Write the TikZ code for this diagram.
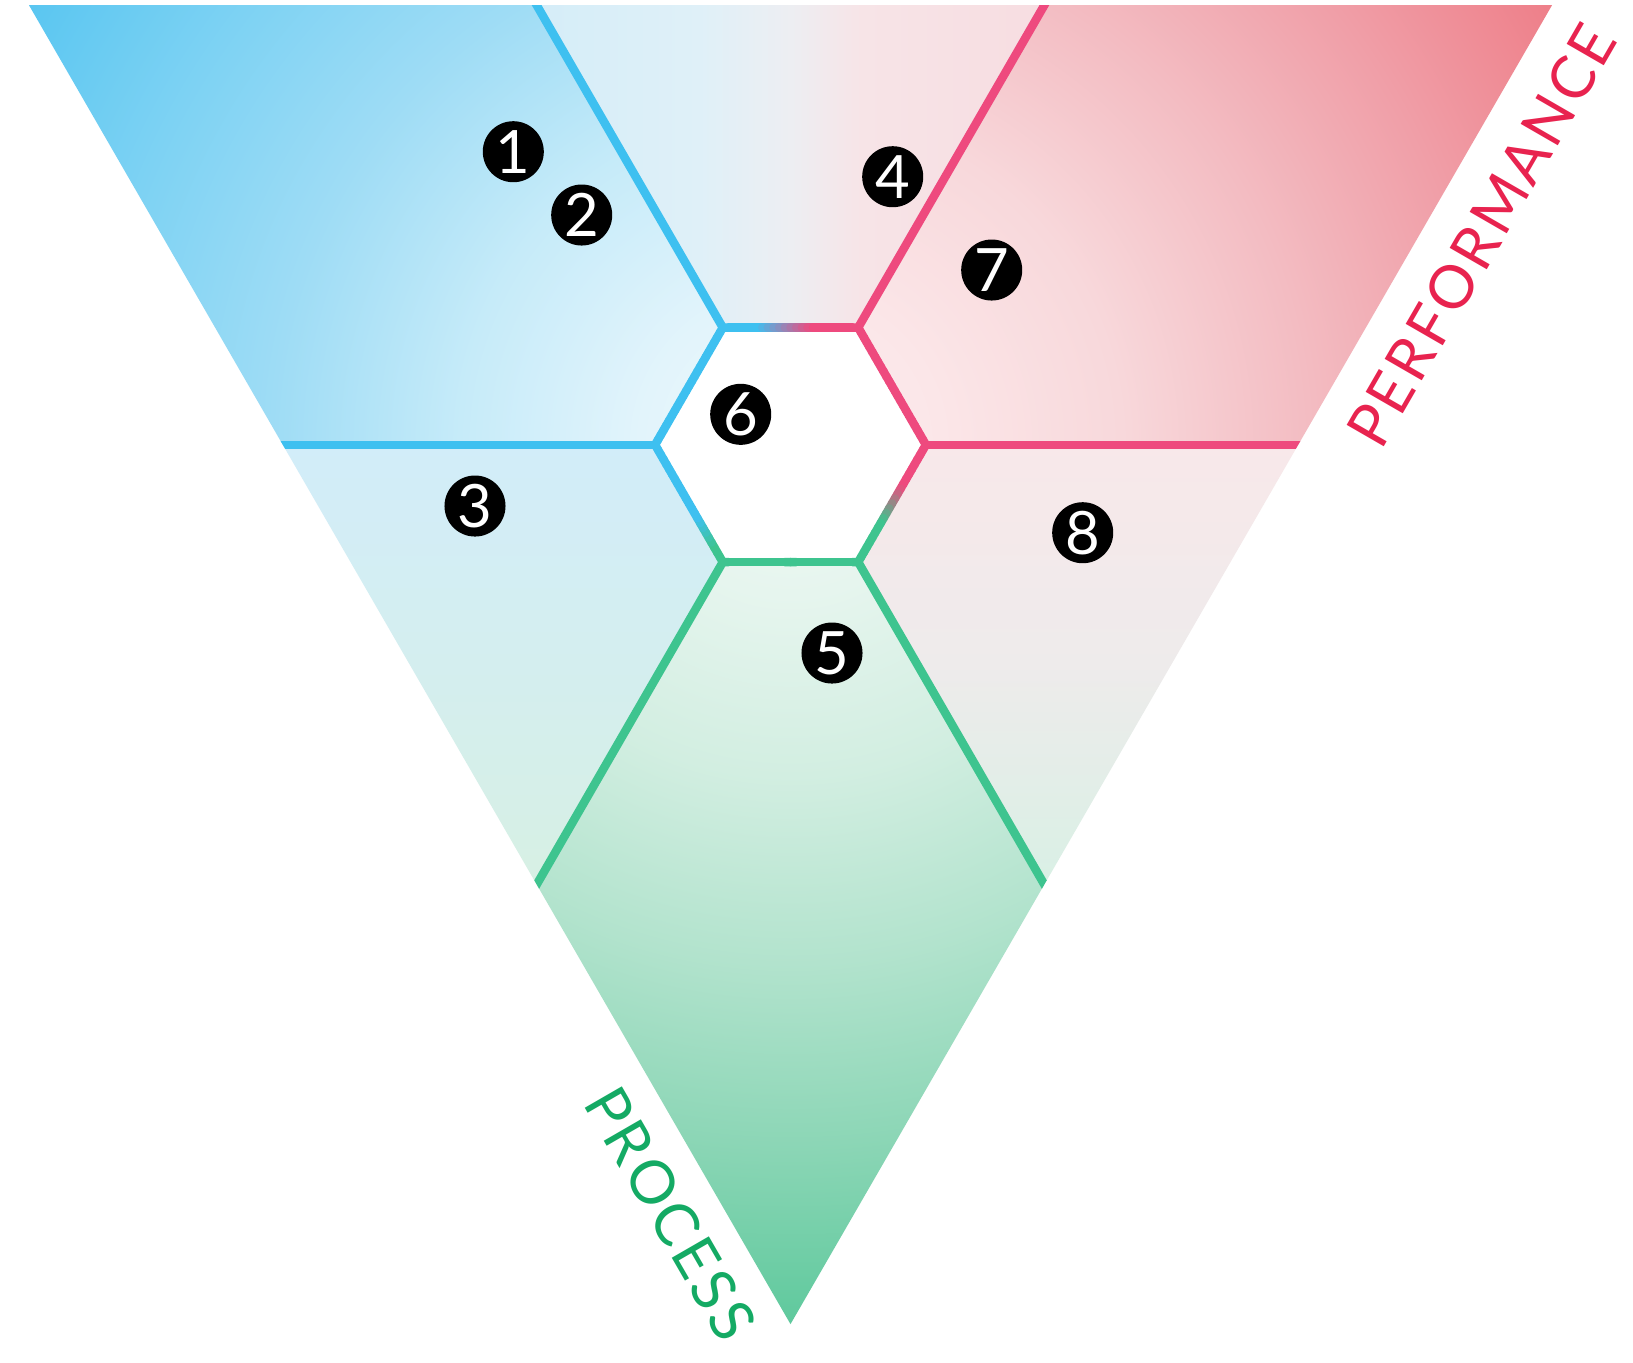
\documentclass[tikz,border=0pt]{standalone}
\usepackage{fontspec}
\setmainfont{Lato}
\usetikzlibrary{calc}

\definecolor{lblue}{HTML}{3EC0F0}
\definecolor{lpink}{HTML}{EE4A7E}
\definecolor{lgreen}{HTML}{3EC48F}
\definecolor{tred}{HTML}{E8234F}
\definecolor{tgreen}{HTML}{14AA64}

\definecolor{b0}{HTML}{EEF8FC}\definecolor{b1}{HTML}{E2F4FB}\definecolor{b2}{HTML}{C6EBF9}
\definecolor{b3}{HTML}{9EDCF5}\definecolor{b4}{HTML}{7DD2F3}\definecolor{b5}{HTML}{5AC6F1}
\definecolor{p0}{HTML}{FCEEF0}\definecolor{p1}{HTML}{FBE6E8}\definecolor{p2}{HTML}{F8D8DB}
\definecolor{p3}{HTML}{F3BCC2}\definecolor{p4}{HTML}{F09EA7}\definecolor{p5}{HTML}{EE7F89}
\definecolor{g0}{HTML}{F0F9F5}\definecolor{g1}{HTML}{E6F5EE}\definecolor{g2}{HTML}{D2EEE1}
\definecolor{g3}{HTML}{B2E3CD}\definecolor{g4}{HTML}{8CD6B6}\definecolor{g5}{HTML}{5FC99D}
\definecolor{tm0}{HTML}{D5EDF8}\definecolor{tm1}{HTML}{DFF0F8}\definecolor{tm2}{HTML}{EDEEF2}
\definecolor{tm3}{HTML}{F7E4E7}\definecolor{tm4}{HTML}{F7DDE1}
\definecolor{lmT}{HTML}{D2EDF9}\definecolor{lmM}{HTML}{D4EEEF}\definecolor{lmB}{HTML}{D7F0E4}
\definecolor{rmT}{HTML}{F8E8EA}\definecolor{rmM}{HTML}{EEEBEB}\definecolor{rmB}{HTML}{D9F0E5}

\pgfdeclareradialshading{blueR}{\pgfpoint{0bp}{0bp}}{color(0bp)=(b0); color(4.2bp)=(b1); color(9.2bp)=(b2); color(14.4bp)=(b3); color(19.4bp)=(b4); color(24.4bp)=(b5); color(50bp)=(b5)}
\pgfdeclareradialshading{pinkR}{\pgfpoint{0bp}{0bp}}{color(0bp)=(p0); color(4.2bp)=(p1); color(9.2bp)=(p2); color(14.4bp)=(p3); color(19.4bp)=(p4); color(24.4bp)=(p5); color(50bp)=(p5)}
\pgfdeclareradialshading{greenR}{\pgfpoint{0bp}{0bp}}{color(0bp)=(g0); color(4.2bp)=(g1); color(9.2bp)=(g2); color(14.4bp)=(g3); color(19.4bp)=(g4); color(24.4bp)=(g5); color(50bp)=(g5)}
\pgfdeclarehorizontalshading{tmS}{100bp}{color(0bp)=(tm0); color(25bp)=(tm0); color(41bp)=(tm1); color(50bp)=(tm2); color(57bp)=(tm3); color(75bp)=(tm4); color(100bp)=(tm4)}
\pgfdeclareverticalshading{lmS}{100bp}{color(0bp)=(lmB); color(25bp)=(lmB); color(50bp)=(lmM); color(75bp)=(lmT); color(100bp)=(lmT)}
\pgfdeclareverticalshading{rmS}{100bp}{color(0bp)=(rmB); color(25bp)=(rmB); color(50bp)=(rmM); color(75bp)=(rmT); color(100bp)=(rmT)}

\newcommand\gedge[6]{%
  \foreach \i in {0,...,23}{%
    \pgfmathsetmacro\ta{\i/24}%
    \pgfmathsetmacro\tb{(\i+1)/24}%
    \pgfmathtruncatemacro\ff{max(0,min(100,((((\i+0.5)/24)-#5)/(#6-#5))*100))}%
    \draw[hexline, draw=#4!\ff!#3] ($(#1)!\ta!(#2)$) -- ($(#1)!\tb!(#2)$);
  }%
}
\newcommand\lsp{\kern 0.9pt}

\begin{document}
\begin{tikzpicture}[x=0.01cm, y=-0.01cm,
  hexline/.style={line width=0.085cm, line cap=round},
  spoke/.style={line width=0.085cm, line cap=butt},
  num/.style={circle, fill=black, text=white, minimum size=0.61cm, inner sep=0pt, font=\fontsize{17}{17}\selectfont},
  label/.style={inner sep=0pt, font=\fontsize{17}{20}\selectfont}]
\useasboundingbox (0,0) rectangle (1633,1362);
\fill[white] (0,0) rectangle (1633,1362);

% geometry
\coordinate (C) at (790.5,444.8);
\coordinate (TL) at (29,5.2);
\coordinate (TR) at (1552,5.2);
\coordinate (B) at (790.5,1324.1);
\coordinate (H1) at (722.8,327.54);
\coordinate (H2) at (858.2,327.54);
\coordinate (H3) at (925.9,444.8);
\coordinate (H4) at (858.2,562.06);
\coordinate (H5) at (722.8,562.06);
\coordinate (H6) at (655.1,444.8);
\coordinate (P1) at (536.7,5.2);
\coordinate (P2) at (1044.3,5.2);
\coordinate (P3) at (1298.2,444.8);
\coordinate (P4) at (1044.3,884.5);
\coordinate (P5) at (536.7,884.5);
\coordinate (P6) at (282.8,444.8);

% corner regions (radial)
\begin{scope}
\clip (TL) -- (P1) -- (H1) -- (H6) -- (P6) -- cycle;
\shade[shading=blueR] (C) circle [radius=9cm];
\end{scope}
\begin{scope}
\clip (P2) -- (TR) -- (P3) -- (H3) -- (H2) -- cycle;
\shade[shading=pinkR] (C) circle [radius=9cm];
\end{scope}
\begin{scope}
\clip (P4) -- (B) -- (P5) -- (H5) -- (H4) -- cycle;
\shade[shading=greenR] (C) circle [radius=9cm];
\end{scope}
% middle regions (linear)
\shade[shading=tmS] (P1) -- (P2) -- (H2) -- (H1) -- cycle;
\shade[shading=lmS] (P6) -- (H6) -- (H5) -- (P5) -- cycle;
\shade[shading=rmS] (P3) -- (P4) -- (H4) -- (H3) -- cycle;
% hexagon
\fill[white] (H1) -- (H2) -- (H3) -- (H4) -- (H5) -- (H6) -- cycle;

% spokes
\begin{scope}
\clip (TL) -- (TR) -- (B) -- cycle;
\draw[spoke, lblue] (H1) -- ($(H1)!1.06!(P1)$);
\draw[spoke, lblue] (H6) -- ($(H6)!1.06!(P6)$);
\draw[spoke, lgreen] (H5) -- ($(H5)!1.06!(P5)$);
\draw[spoke, lgreen] (H4) -- ($(H4)!1.06!(P4)$);
\draw[spoke, lpink] (H3) -- ($(H3)!1.06!(P3)$);
\draw[spoke, lpink] (H2) -- ($(H2)!1.06!(P2)$);
\end{scope}

% hexagon edges
\gedge{H1}{H2}{lblue}{lpink}{0.27}{0.67}
\gedge{H2}{H3}{lpink}{lpink}{0}{1}
\gedge{H3}{H4}{lpink}{lgreen}{0.37}{0.67}
\gedge{H4}{H5}{lgreen}{lgreen}{0}{1}
\gedge{H5}{H6}{lgreen}{lblue}{0.15}{0.4}
\gedge{H6}{H1}{lblue}{lblue}{0}{1}

% numbers
\node[num] (n1) at (513.3,151.7) {1};
\node[num] (n2) at (581.7,215) {2};
\node[num] (n3) at (475,506) {3};
\node[num] (n4) at (892.7,176.7) {4};
\node[num] (n5) at (832,653) {5};
\node[num] (n6) at (740.7,414.3) {6};
\node[num] (n7) at (991.7,270) {7};
\node[num] (n8) at (1082.7,532.7) {8};

% labels
\node[label, text=tred, rotate=60] (perf) at (1481.5,235.7) {P\lsp E\lsp R\lsp F\lsp O\lsp R\lsp M\lsp A\lsp N\lsp C\lsp E};
\node[label, text=tgreen, rotate=-60] (proc) at (670.6,1213.4) {P\lsp R\lsp O\lsp C\lsp E\lsp S\lsp S};
\end{tikzpicture}
\end{document}
